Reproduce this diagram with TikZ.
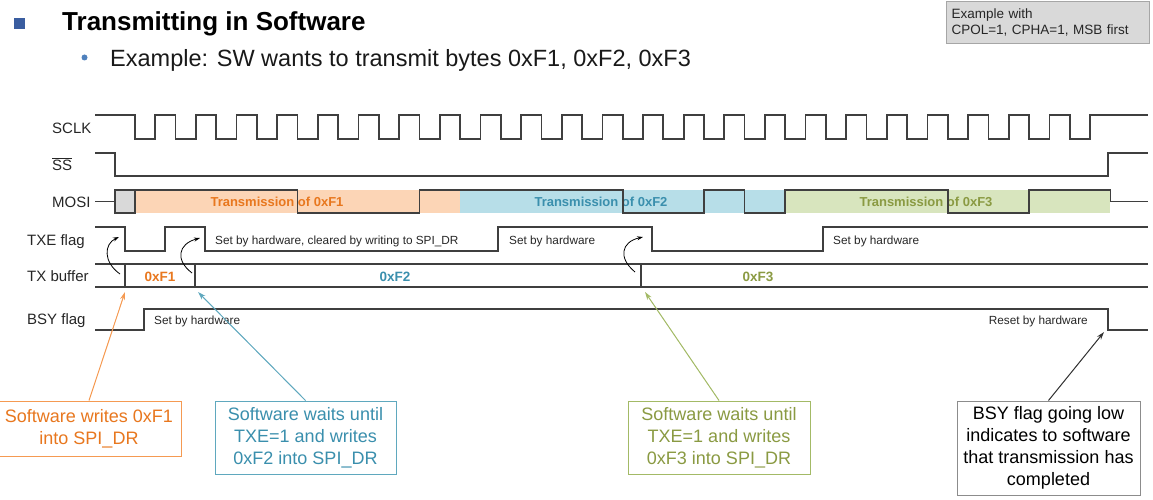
\documentclass[tikz,border=0pt]{standalone}
\usepackage{fontspec}
\setmainfont{Liberation Sans}
\usetikzlibrary{arrows.meta}
\definecolor{waveC}{HTML}{3F3F3F}
\definecolor{orTxt}{HTML}{E8771E}
\definecolor{orBox}{HTML}{F59A52}
\definecolor{orFill}{HTML}{FCD5B6}
\definecolor{blTxt}{HTML}{3A8FAD}
\definecolor{blBox}{HTML}{5FA8BE}
\definecolor{blFill}{HTML}{B7DEE8}
\definecolor{grTxt}{HTML}{8A9A42}
\definecolor{grBox}{HTML}{A3BA66}
\definecolor{grFill}{HTML}{D8E5BE}
\definecolor{grayFill}{HTML}{D9D9D9}
\definecolor{bulletC}{HTML}{3A5DA0}
\definecolor{bulletD}{HTML}{4F81BD}
\begin{document}
\begin{tikzpicture}[x=1pt,y=-1pt,
  wave/.style={draw=waveC,line width=1.7pt,line join=miter},
  sig/.style={anchor=base west,font=\fontsize{15}{18}\selectfont,text=black!85,inner sep=0pt},
  note/.style={anchor=base west,font=\fontsize{11.8}{14}\selectfont,text=black!85,inner sep=0pt},
  trans/.style={anchor=base,font=\bfseries\fontsize{13}{15}\selectfont,inner sep=0pt},
  val/.style={anchor=base,font=\bfseries\fontsize{13.5}{15}\selectfont,inner sep=0pt},
  callout/.style={line width=1pt,fill=white,align=center,font=\fontsize{18}{22}\selectfont,inner sep=2pt},
  hook/.style={draw=black,line width=0.8pt,-{Stealth[length=6pt,width=4pt]}},
  pointer/.style={line width=1pt,-{Stealth[length=8pt,width=5pt]}}]
\useasboundingbox (0,0) rectangle (1153,500);

% ---------- header ----------
\fill[bulletC] (14,18) rectangle (25,29);
\node[anchor=base west,inner sep=0pt,font=\bfseries\fontsize{26}{30}\selectfont] (title) at (62,31) {Transmitting in Software};
\fill[bulletD] (84.5,57.5) circle (3pt);
\node[anchor=base west,inner sep=0pt,font=\fontsize{23.5}{28}\selectfont,text=black!90] (sub) at (110,67) {Example: SW wants to transmit bytes 0xF1, 0xF2, 0xF3};
\node[draw=black!35,line width=1pt,fill=grayFill,anchor=north west,minimum width=203pt,minimum height=42pt,text width=193pt,inner sep=5pt,align=left,font=\fontsize{13.5}{16}\selectfont,text=black!85] (cfg) at (946,1) {Example with\\CPOL=1, CPHA=1, MSB first};

% ---------- signal labels ----------
\node[sig] (lSCLK) at (52,133) {SCLK};
\node[sig] (lSS) at (52,170.5) {$\overline{\mbox{SS}}$};
\node[sig] (lMOSI) at (52,207) {MOSI};
\node[sig] (lTXE) at (27,245) {TXE flag};
\node[sig] (lTXB) at (27,281) {TX buffer};
\node[sig] (lBSY) at (27,324) {BSY flag};

% ---------- MOSI fills ----------
\fill[orFill] (135,190) rectangle (460,213);
\fill[blFill] (460,190) rectangle (785.24,213);
\fill[grFill] (785.24,190) rectangle (1110.36,213);
\node[trans,text=orTxt] (t1) at (277,206) {Transmission of 0xF1};
\node[trans,text=blTxt] (t2) at (601,206) {Transmission of 0xF2};
\node[trans,text=grTxt] (t3) at (926,206) {Transmission of 0xF3};

% ---------- SCLK ----------
\draw[wave] (95,115) -- (135,115)
  foreach \k in {0,...,23} { -- ({135+40.64*\k},115) -- ({135+40.64*\k},139) -- ({155.32+40.64*\k},139) -- ({155.32+40.64*\k},115) }
  -- (1148,115);

% ---------- SS ----------
\draw[wave] (95,153) -- (115,153) -- (115,176) -- (1108,176) -- (1108,153) -- (1148,153);

% ---------- MOSI ----------
\draw[wave] (95,201.5) -- (115,201.5);
\draw[wave,fill=grayFill] (115,190) rectangle (135,213);
\draw[wave] (135,190) -- (297.56,190) -- (297.56,213) -- (419.48,213) -- (419.48,190)
  -- (622.68,190) -- (622.68,213) -- (703.96,213) -- (703.96,190) -- (744.6,190) -- (744.6,213)
  -- (785.24,213) -- (785.24,190) -- (947.8,190) -- (947.8,213) -- (1029.08,213) -- (1029.08,190)
  -- (1110.36,190) -- (1110.36,201.5) -- (1148,201.5);

% ---------- TXE ----------
\draw[wave] (95,227) -- (125,227) -- (125,251) -- (165,251) -- (165,227) -- (205,227) -- (205,251)
  -- (498,251) -- (498,227) -- (652,227) -- (652,251) -- (823,251) -- (823,227) -- (1148,227);
\node[note] (n1) at (215,244) {Set by hardware, cleared by writing to SPI\_DR};
\node[note] (n2) at (509,244) {Set by hardware};
\node[note] (n3) at (833,244) {Set by hardware};

% ---------- TX buffer ----------
\draw[wave] (95,264) -- (1148,264);
\draw[wave] (95,287) -- (1148,287);
\draw[wave] (125,264) -- (125,287);
\draw[wave] (195,264) -- (195,287);
\draw[wave] (641,264) -- (641,287);
\node[val,text=orTxt] (v1) at (160,281.5) {0xF1};
\node[val,text=blTxt] (v2) at (395,281.5) {0xF2};
\node[val,text=grTxt] (v3) at (758,281.5) {0xF3};

% ---------- BSY ----------
\draw[wave] (95,330) -- (144,330) -- (144,309) -- (1108,309) -- (1108,330) -- (1148,330);
\node[note] (n4) at (154,324) {Set by hardware};
\node[note,anchor=base east] (n5) at (1088,324) {Reset by hardware};

% ---------- hook arrows (buffer -> TXE) ----------
\coordinate (h1s) at (120,274); \coordinate (h1e) at (119,237);
\coordinate (h2s) at (192,273); \coordinate (h2e) at (200,238);
\coordinate (h3s) at (635,272); \coordinate (h3e) at (643,237);
\draw[hook] (h1s) .. controls (103,262) and (104,244) .. (h1e);
\draw[hook] (h2s) .. controls (175,260) and (178,244) .. (h2e);
\draw[hook] (h3s) .. controls (618,258) and (621,242) .. (h3e);

% ---------- callouts ----------
\node[callout,draw=orBox,text=orTxt,minimum width=184pt,minimum height=55pt] (c1) at (89,428.5) {Software writes 0xF1\\into SPI\_DR};
\node[callout,draw=blBox,text=blTxt,minimum width=181pt,minimum height=73pt] (c2) at (305.5,437.5) {Software waits until\\TXE=1 and writes\\0xF2 into SPI\_DR};
\node[callout,draw=grBox,text=grTxt,minimum width=182pt,minimum height=73pt] (c3) at (719,437.5) {Software waits until\\TXE=1 and writes\\0xF3 into SPI\_DR};
\node[callout,draw=black!45,text=black,minimum width=183pt,minimum height=94pt] (c4) at (1048.5,448) {BSY flag going low\\indicates to software\\that transmission has\\completed};

\coordinate (p1) at (125,292);
\coordinate (p2) at (198,292);
\coordinate (p3) at (645,292);
\coordinate (p4) at (1104,332);
\draw[pointer,draw=orBox,fill=orBox] (c1.north) -- (p1);
\draw[pointer,draw=blBox,fill=blBox] (c2.north) -- (p2);
\draw[pointer,draw=grBox,fill=grBox] (c3.north) -- (p3);
\draw[pointer,draw=black!80,fill=black!80] (c4.north) -- (p4);
\end{tikzpicture}
\end{document}
